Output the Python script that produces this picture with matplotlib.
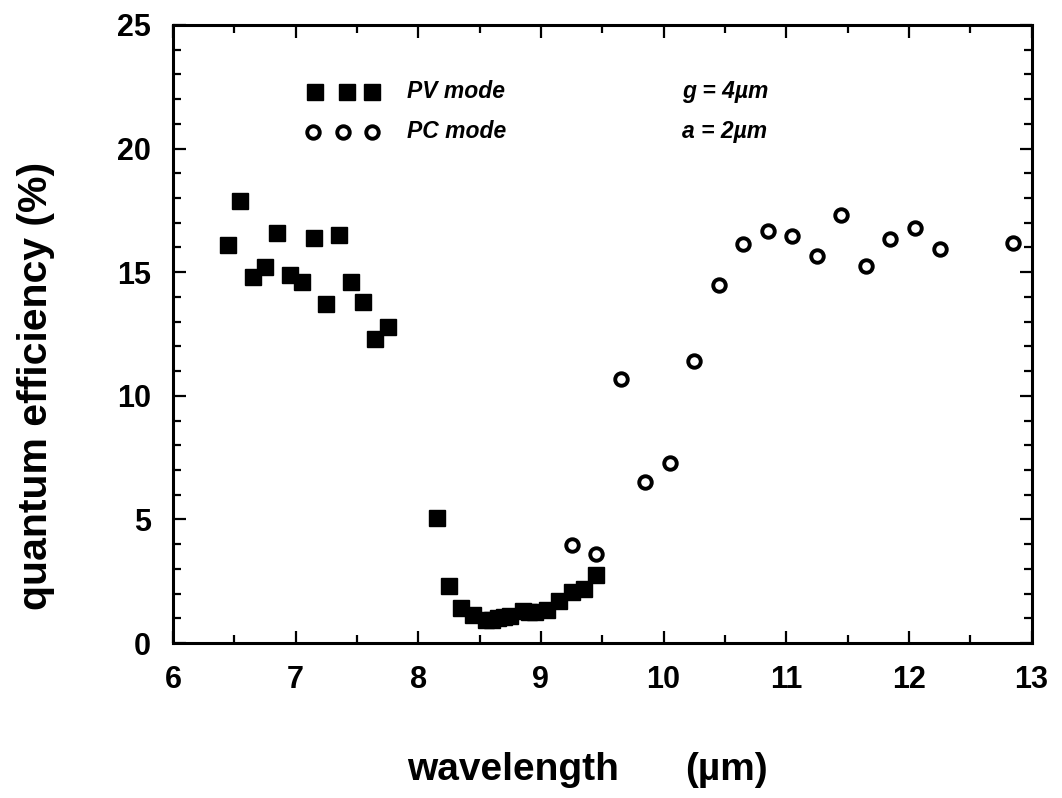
import matplotlib.pyplot as plt
from matplotlib.ticker import MultipleLocator

# PV mode (filled squares)
pv_wl = [6.45, 6.55, 6.65, 6.75, 6.85, 6.95, 7.05, 7.15, 7.25, 7.35, 7.45, 7.55, 7.65, 7.75,
         8.15, 8.25, 8.35, 8.45, 8.55, 8.6, 8.65, 8.7, 8.75, 8.85, 8.9, 8.95, 9.05, 9.15,
         9.25, 9.35, 9.45]
pv_qe = [16.1, 17.9, 14.8, 15.2, 16.6, 14.9, 14.6, 16.4, 13.7, 16.5, 14.6, 13.8, 12.3, 12.8,
         5.05, 2.3, 1.4, 1.15, 0.95, 0.95, 1.0, 1.05, 1.1, 1.3, 1.25, 1.25, 1.35, 1.7,
         2.05, 2.2, 2.75]

# PC mode (open circles)
pc_wl = [9.25, 9.45, 9.65, 9.85, 10.05, 10.25, 10.45, 10.65, 10.85, 11.05, 11.25, 11.45,
         11.65, 11.85, 12.05, 12.25, 12.85]
pc_qe = [3.95, 3.6, 10.7, 6.5, 7.3, 11.4, 14.5, 16.15, 16.65, 16.45, 15.65, 17.3,
         15.25, 16.35, 16.8, 15.95, 16.2]

plt.rcParams['font.family'] = ['Liberation Sans', 'DejaVu Sans']
plt.rcParams['font.weight'] = 'bold'

fig = plt.figure(figsize=(10.62, 7.98), dpi=100)
ax = fig.add_axes([0.1629, 0.1942, 0.8084, 0.7745])

sq = dict(marker='s', color='black', markersize=11, linestyle='none')
ci = dict(marker='o', markerfacecolor='white', markeredgecolor='black',
          markersize=9, markeredgewidth=2.8, linestyle='none')

ax.plot(pv_wl, pv_qe, **sq)
ax.plot(pc_wl, pc_qe, **ci)

ax.set_xlim(6, 13)
ax.set_ylim(0, 25)
ax.xaxis.set_major_locator(MultipleLocator(1))
ax.xaxis.set_minor_locator(MultipleLocator(0.5))
ax.yaxis.set_major_locator(MultipleLocator(5))
ax.yaxis.set_minor_locator(MultipleLocator(1))
ax.tick_params(which='both', direction='in', top=True, right=True, width=1.6)
ax.tick_params(which='major', length=9, labelsize=22, pad=16)
ax.tick_params(which='minor', length=6)
for lab in ax.get_xticklabels() + ax.get_yticklabels():
    lab.set_fontweight('bold')
for sp in ax.spines.values():
    sp.set_linewidth(2.2)

# legend drawn by hand, like the original
def px(x, y):
    return ((x - 173.2) / 858.3 * 7 + 6, (643 - y) / 24.72)

for mx in [315, 347, 372]:
    ax.plot(*px(mx, 92), clip_on=False, **sq)
for mx in [313, 343, 372]:
    ax.plot(*px(mx, 132), clip_on=False, **ci)

tfont = dict(fontsize=16.5, fontweight='bold', fontstyle='italic', va='center', ha='left')
ax.text(*px(407, 92), 'PV mode', **tfont)
ax.text(*px(407, 132), 'PC mode', **tfont)
ax.text(*px(682, 92), 'g = 4µm', **tfont)
ax.text(*px(682, 132), 'a = 2µm', **tfont)

ax.set_ylabel('quantum efficiency (%)', fontsize=29.5, fontweight='bold')
ax.yaxis.set_label_coords(-0.1375, 0.416)
ax.text(*px(407, 770), 'wavelength', fontsize=28, fontweight='bold', va='center', ha='left',
        clip_on=False)
ax.text(*px(685, 770), '(µm)', fontsize=28, fontweight='bold', va='center', ha='left',
        clip_on=False)

plt.savefig('out.png', dpi=100)
